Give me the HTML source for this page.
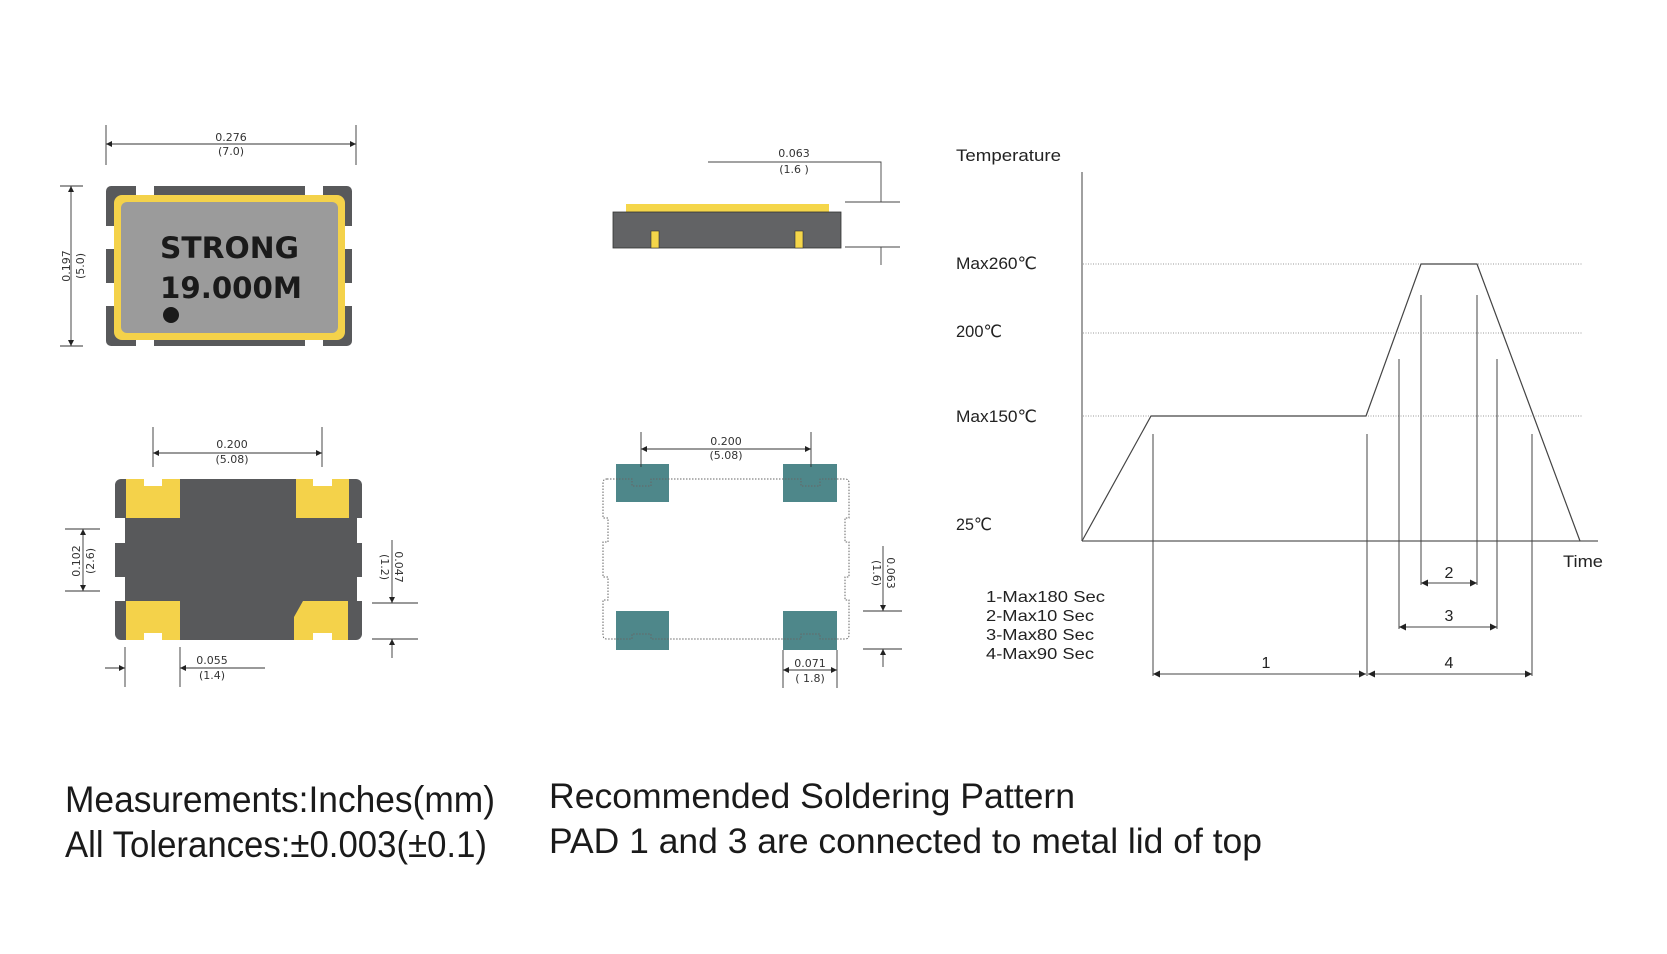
<!DOCTYPE html>
<html>
<head>
<meta charset="utf-8">
<style>
  html,body{margin:0;padding:0;background:#fff;}
  body{width:1667px;height:954px;overflow:hidden;}
  svg{display:block;}
  .dim{font-family:"DejaVu Sans","Liberation Sans",sans-serif;font-size:11px;fill:#333;}
  .g{font-family:"Liberation Sans","DejaVu Sans",sans-serif;fill:#222;}
  .big{font-family:"Liberation Sans","DejaVu Sans",sans-serif;fill:#1a1a1a;}
</style>
</head>
<body>
<svg width="1667" height="954" viewBox="0 0 1667 954" xmlns="http://www.w3.org/2000/svg">
  <defs>
    <marker id="a" viewBox="0 0 10 10" refX="10" refY="5" markerWidth="8" markerHeight="6" markerUnits="userSpaceOnUse" orient="auto-start-reverse">
      <path d="M0,0 L10,5 L0,10 z" fill="#222"/>
    </marker>
    <marker id="b" viewBox="0 0 10 10" refX="10" refY="5" markerWidth="10" markerHeight="7" markerUnits="userSpaceOnUse" orient="auto-start-reverse">
      <path d="M0,0 L10,5 L0,10 z" fill="#222"/>
    </marker>
  </defs>

  <!-- ================= TOP PACKAGE ================= -->
  <rect x="106" y="186" width="246" height="160" rx="5" fill="#58595b"/>
  <!-- notches -->
  <rect x="136" y="184" width="18" height="11" fill="#fff"/>
  <rect x="305" y="184" width="18" height="11" fill="#fff"/>
  <rect x="136" y="340" width="18" height="8" fill="#fff"/>
  <rect x="305" y="340" width="18" height="8" fill="#fff"/>
  <rect x="104" y="226" width="11" height="23" fill="#fff"/>
  <rect x="104" y="283" width="11" height="23" fill="#fff"/>
  <rect x="345" y="226" width="9" height="23" fill="#fff"/>
  <rect x="345" y="283" width="9" height="23" fill="#fff"/>
  <rect x="114" y="195" width="231" height="145" rx="8" fill="#f4d24a"/>
  <rect x="121" y="202" width="217" height="131" rx="6" fill="#9b9b9b"/>
  <text x="160" y="258" font-family="'DejaVu Sans','Liberation Sans',sans-serif" font-weight="bold" font-size="29" fill="#1a1a1a" textLength="139" lengthAdjust="spacingAndGlyphs">STRONG</text>
  <text x="160" y="298" font-family="'DejaVu Sans','Liberation Sans',sans-serif" font-weight="bold" font-size="29" fill="#1a1a1a" textLength="142" lengthAdjust="spacingAndGlyphs">19.000M</text>
  <circle cx="171" cy="315" r="8" fill="#1a1a1a"/>

  <!-- dims top package -->
  <g stroke="#333" stroke-width="0.9" fill="none">
    <line x1="106" y1="125" x2="106" y2="165"/>
    <line x1="356" y1="125" x2="356" y2="165"/>
    <line x1="106" y1="144" x2="356" y2="144" marker-start="url(#a)" marker-end="url(#a)"/>
    <line x1="60" y1="186" x2="83" y2="186"/>
    <line x1="60" y1="346" x2="83" y2="346"/>
    <line x1="71" y1="186" x2="71" y2="346" marker-start="url(#a)" marker-end="url(#a)"/>
  </g>
  <text class="dim" x="231" y="141" text-anchor="middle">0.276</text>
  <text class="dim" x="231" y="155" text-anchor="middle">(7.0)</text>
  <text class="dim" transform="translate(70,266) rotate(-90)" text-anchor="middle">0.197</text>
  <text class="dim" transform="translate(84,266) rotate(-90)" text-anchor="middle">(5.0)</text>

  <!-- ================= BOTTOM PACKAGE ================= -->
  <rect x="115" y="479" width="247" height="161" rx="6" fill="#58595b"/>
  <rect x="113" y="518" width="12" height="25" fill="#fff"/>
  <rect x="113" y="577" width="12" height="24" fill="#fff"/>
  <rect x="357" y="518" width="7" height="25" fill="#fff"/>
  <rect x="357" y="577" width="7" height="24" fill="#fff"/>
  <g fill="#f4d24a">
    <rect x="126" y="479" width="54" height="39"/>
    <rect x="296" y="479" width="53" height="39"/>
    <rect x="126" y="601" width="54" height="39"/>
    <polygon points="303,601 348,601 348,640 294,640 294,617"/>
  </g>
  <g fill="#fff">
    <rect x="144" y="477" width="18" height="9"/>
    <rect x="313" y="477" width="19" height="9"/>
    <rect x="144" y="633" width="18" height="9"/>
    <rect x="313" y="633" width="19" height="9"/>
  </g>

  <g stroke="#333" stroke-width="0.9" fill="none">
    <line x1="153" y1="427" x2="153" y2="467"/>
    <line x1="322" y1="427" x2="322" y2="467"/>
    <line x1="153" y1="453" x2="322" y2="453" marker-start="url(#a)" marker-end="url(#a)"/>
    <line x1="65" y1="529" x2="100" y2="529"/>
    <line x1="65" y1="591" x2="100" y2="591"/>
    <line x1="83" y1="529" x2="83" y2="591" marker-start="url(#a)" marker-end="url(#a)"/>
    <line x1="372" y1="603" x2="418" y2="603"/>
    <line x1="372" y1="639" x2="418" y2="639"/>
    <line x1="392" y1="540" x2="392" y2="603" marker-end="url(#a)"/>
    <line x1="392" y1="658" x2="392" y2="639" marker-end="url(#a)"/>
    <line x1="125" y1="647" x2="125" y2="687"/>
    <line x1="180" y1="647" x2="180" y2="687"/>
    <line x1="105" y1="668" x2="125" y2="668" marker-end="url(#a)"/>
    <line x1="265" y1="668" x2="180" y2="668" marker-end="url(#a)"/>
  </g>
  <text class="dim" x="232" y="448" text-anchor="middle">0.200</text>
  <text class="dim" x="232" y="463" text-anchor="middle">(5.08)</text>
  <text class="dim" transform="translate(80,561) rotate(-90)" text-anchor="middle">0.102</text>
  <text class="dim" transform="translate(94,561) rotate(-90)" text-anchor="middle">(2.6)</text>
  <text class="dim" transform="translate(395,567) rotate(90)" text-anchor="middle">0.047</text>
  <text class="dim" transform="translate(381,567) rotate(90)" text-anchor="middle">(1.2)</text>
  <text class="dim" x="212" y="664" text-anchor="middle">0.055</text>
  <text class="dim" x="212" y="679" text-anchor="middle">(1.4)</text>

  <!-- ================= SIDE VIEW ================= -->
  <rect x="626" y="204" width="203" height="8" fill="#f5d64a"/>
  <rect x="613" y="212" width="228" height="36" fill="#626365" stroke="#333" stroke-width="0.8"/>
  <rect x="651" y="231" width="8" height="17" fill="#f5d64a" stroke="#333" stroke-width="0.6"/>
  <rect x="795" y="231" width="8" height="17" fill="#f5d64a" stroke="#333" stroke-width="0.6"/>
  <g stroke="#444" stroke-width="0.9" fill="none">
    <path d="M708,162 H881 V202"/>
    <line x1="845" y1="202" x2="900" y2="202"/>
    <line x1="845" y1="247" x2="900" y2="247"/>
    <line x1="881" y1="247" x2="881" y2="265"/>
  </g>
  <text class="dim" x="794" y="157" text-anchor="middle">0.063</text>
  <text class="dim" x="794" y="173" text-anchor="middle">(1.6 )</text>

  <!-- ================= FOOTPRINT ================= -->
  <g fill="#4e878a">
    <rect x="616" y="464" width="53" height="38"/>
    <rect x="783" y="464" width="54" height="38"/>
    <rect x="616" y="611" width="53" height="39"/>
    <rect x="783" y="611" width="54" height="39"/>
  </g>
  <path d="M607,479 H632 V486 H651 V479 H801 V486 H820 V479 H845 Q849,479 849,483 V518 H845 V542 H849 V577 H845 V600 H849 V635 Q849,639 845,639 H820 V634 H801 V639 H651 V634 H632 V639 H607 Q603,639 603,635 V600 H608 V577 H603 V542 H608 V518 H603 V483 Q603,479 607,479 Z" fill="none" stroke="#666" stroke-width="1" stroke-dasharray="1.5,1.5"/>
  <g stroke="#333" stroke-width="0.9" fill="none">
    <line x1="641" y1="432" x2="641" y2="467"/>
    <line x1="811" y1="432" x2="811" y2="467"/>
    <line x1="641" y1="449" x2="811" y2="449" marker-start="url(#a)" marker-end="url(#a)"/>
    <line x1="863" y1="611" x2="902" y2="611"/>
    <line x1="863" y1="649" x2="902" y2="649"/>
    <line x1="883" y1="546" x2="883" y2="611" marker-end="url(#a)"/>
    <line x1="883" y1="667" x2="883" y2="649" marker-end="url(#a)"/>
    <line x1="783" y1="650" x2="783" y2="688"/>
    <line x1="837" y1="650" x2="837" y2="688"/>
    <line x1="783" y1="670" x2="837" y2="670" marker-start="url(#a)" marker-end="url(#a)"/>
  </g>
  <text class="dim" x="726" y="445" text-anchor="middle">0.200</text>
  <text class="dim" x="726" y="459" text-anchor="middle">(5.08)</text>
  <text class="dim" transform="translate(887,573) rotate(90)" text-anchor="middle">0.063</text>
  <text class="dim" transform="translate(873,573) rotate(90)" text-anchor="middle">(1.6)</text>
  <text class="dim" x="810" y="667" text-anchor="middle">0.071</text>
  <text class="dim" x="810" y="682" text-anchor="middle">( 1.8)</text>

  <!-- ================= GRAPH ================= -->
  <g stroke="#999" stroke-width="1" stroke-dasharray="1,1.5" fill="none">
    <line x1="1083" y1="264" x2="1582" y2="264"/>
    <line x1="1083" y1="333" x2="1582" y2="333"/>
    <line x1="1083" y1="416" x2="1582" y2="416"/>
  </g>
  <g stroke="#777" stroke-width="1.4" fill="none">
    <line x1="1082" y1="172" x2="1082" y2="541"/>
    <line x1="1082" y1="541" x2="1598" y2="541"/>
  </g>
  <path d="M1082,541 L1151,416 L1366,416 L1421,264 L1477,264 L1580,541" fill="none" stroke="#444" stroke-width="1.2"/>
  <g stroke="#444" stroke-width="1" fill="none">
    <line x1="1153" y1="434" x2="1153" y2="676"/>
    <line x1="1367" y1="434" x2="1367" y2="676"/>
    <line x1="1399" y1="359" x2="1399" y2="629"/>
    <line x1="1421" y1="295" x2="1421" y2="585"/>
    <line x1="1477" y1="295" x2="1477" y2="585"/>
    <line x1="1497" y1="359" x2="1497" y2="629"/>
    <line x1="1532" y1="434" x2="1532" y2="676"/>
    <line x1="1153" y1="674" x2="1366" y2="674" marker-start="url(#b)" marker-end="url(#b)"/>
    <line x1="1368" y1="674" x2="1532" y2="674" marker-start="url(#b)" marker-end="url(#b)"/>
    <line x1="1399" y1="627" x2="1497" y2="627" marker-start="url(#b)" marker-end="url(#b)"/>
    <line x1="1421" y1="583" x2="1477" y2="583" marker-start="url(#b)" marker-end="url(#b)"/>
  </g>
  <text class="g" x="956" y="161" font-size="17" textLength="105" lengthAdjust="spacingAndGlyphs">Temperature</text>
  <text class="g" x="956" y="269" font-size="17" textLength="81" lengthAdjust="spacingAndGlyphs">Max260℃</text>
  <text class="g" x="956" y="337" font-size="17" textLength="46" lengthAdjust="spacingAndGlyphs">200℃</text>
  <text class="g" x="956" y="422" font-size="17" textLength="81" lengthAdjust="spacingAndGlyphs">Max150℃</text>
  <text class="g" x="956" y="530" font-size="17" textLength="36" lengthAdjust="spacingAndGlyphs">25℃</text>
  <text class="g" x="1563" y="567" font-size="17" textLength="40" lengthAdjust="spacingAndGlyphs">Time</text>
  <text class="g" x="986" y="602" font-size="16" textLength="119" lengthAdjust="spacingAndGlyphs">1-Max180 Sec</text>
  <text class="g" x="986" y="621" font-size="16" textLength="108" lengthAdjust="spacingAndGlyphs">2-Max10 Sec</text>
  <text class="g" x="986" y="640" font-size="16" textLength="108" lengthAdjust="spacingAndGlyphs">3-Max80 Sec</text>
  <text class="g" x="986" y="659" font-size="16" textLength="108" lengthAdjust="spacingAndGlyphs">4-Max90 Sec</text>
  <text class="g" x="1266" y="668" font-size="16" text-anchor="middle">1</text>
  <text class="g" x="1449" y="668" font-size="16" text-anchor="middle">4</text>
  <text class="g" x="1449" y="621" font-size="16" text-anchor="middle">3</text>
  <text class="g" x="1449" y="578" font-size="16" text-anchor="middle">2</text>

  <!-- ================= BOTTOM TEXT ================= -->
  <text class="big" x="65" y="812" font-size="37" textLength="430" lengthAdjust="spacingAndGlyphs">Measurements:Inches(mm)</text>
  <text class="big" x="65" y="857" font-size="37" textLength="422" lengthAdjust="spacingAndGlyphs">All Tolerances:±0.003(±0.1)</text>
  <text class="big" x="549" y="808" font-size="35" textLength="526" lengthAdjust="spacingAndGlyphs">Recommended Soldering Pattern</text>
  <text class="big" x="549" y="853" font-size="35" textLength="713" lengthAdjust="spacingAndGlyphs">PAD 1 and 3 are connected to metal lid of top</text>
</svg>
</body>
</html>
